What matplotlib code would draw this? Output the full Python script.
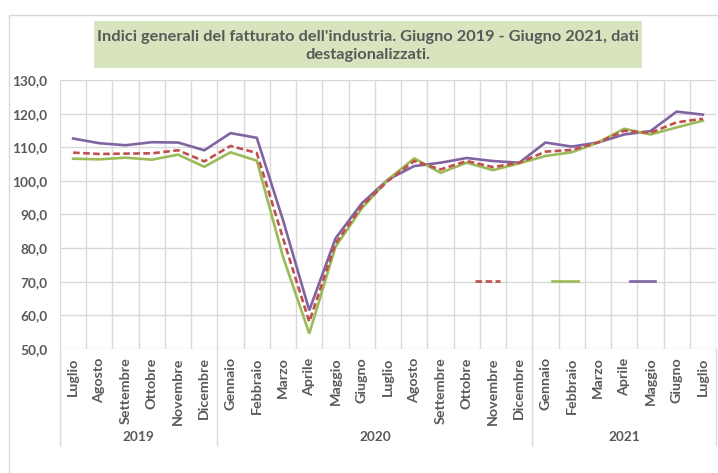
import matplotlib
matplotlib.use('Agg')
import matplotlib.pyplot as plt
import numpy as np
from matplotlib.patches import Rectangle
from matplotlib.lines import Line2D
from matplotlib.transforms import blended_transform_factory

months = ["Luglio", "Agosto", "Settembre", "Ottobre", "Novembre", "Dicembre",
          "Gennaio", "Febbraio", "Marzo", "Aprile", "Maggio", "Giugno",
          "Luglio", "Agosto", "Settembre", "Ottobre", "Novembre", "Dicembre",
          "Gennaio", "Febbraio", "Marzo", "Aprile", "Maggio", "Giugno", "Luglio"]
years = ["2019", "2020", "2021"]
year_counts = [6, 12, 7]

red = [108.4, 108.0, 108.1, 108.2, 109.1, 105.8, 110.4, 108.3, 82.9, 58.1, 81.4, 92.5,
       100.0, 105.9, 103.4, 105.9, 104.1, 105.4, 108.7, 109.2, 111.4, 114.9, 114.3, 117.4, 118.5]
green = [106.6, 106.4, 106.9, 106.3, 107.8, 104.2, 108.5, 106.0, 77.4, 54.6, 80.4, 91.8,
         100.4, 106.7, 102.4, 105.4, 103.2, 105.2, 107.4, 108.5, 111.4, 115.5, 113.8, 115.9, 117.9]
purple = [112.6, 111.2, 110.6, 111.5, 111.4, 109.1, 114.2, 112.8, 88.3, 61.5, 82.9, 93.3,
          100.4, 104.4, 105.4, 106.8, 105.9, 105.4, 111.4, 110.2, 111.4, 113.8, 114.8, 120.6, 119.7]

title = "Indici generali del fatturato dell'industria. Giugno 2019 - Giugno 2021, dati\ndestagionalizzati."

TXT = '#595959'
GRID = '#D9D9D9'
C_RED = '#C0504D'
C_GREEN = '#9BBB59'
C_PURPLE = '#8064A2'
DASH = (2.5, 1.3)

plt.rcParams['font.family'] = ['Lato', 'DejaVu Sans']

W, H = 718, 473
fig = plt.figure(figsize=(W / 100, H / 100), dpi=100)

# outer chart border
fig.patches.append(Rectangle((9 / W, -0.1), 1.2, 1.1 - 15 / H, transform=fig.transFigure,
                             fill=False, edgecolor=GRID, linewidth=1.0))

ax = fig.add_axes([60 / W, 1 - 349 / H, (716 - 60) / W, (349 - 80) / H])
x = np.arange(len(months))

ax.plot(x, purple, color=C_PURPLE, lw=1.9, solid_joinstyle='miter')
ax.plot(x, green, color=C_GREEN, lw=1.9, solid_joinstyle='miter')
ax.plot(x, red, color=C_RED, lw=1.9, dashes=DASH)

ax.set_xlim(-0.5, len(months) - 0.5)
ax.set_ylim(50, 130)
ax.set_yticks(np.arange(50, 131, 10))
ax.set_yticklabels([f"{v:.1f}".replace('.', ',') for v in np.arange(50, 131, 10)])
ax.set_xticks(x)
ax.set_xticklabels(months, rotation=90, va='top', ha='center')
ax.set_xticks(np.arange(-0.5, len(months), 1), minor=True)
ax.tick_params(axis='both', which='both', length=0, colors=TXT)
ax.tick_params(axis='x', pad=6, labelsize=10.3)
ax.tick_params(axis='y', pad=9, labelsize=9.8)
for lab in ax.get_xticklabels() + ax.get_yticklabels():
    lab.set_fontweight('bold')
ax.grid(True, which='major', axis='y', color=GRID, lw=1.0)
ax.grid(True, which='minor', axis='x', color=GRID, lw=1.0)
ax.set_axisbelow(True)
for s in ax.spines.values():
    s.set_visible(False)

# year group labels and separators
tr = blended_transform_factory(ax.transData, ax.transAxes)
start = -0.5
bounds = [start]
for name, n in zip(years, year_counts):
    mid = start + n / 2
    ax.text(mid, -0.327, name, transform=tr, ha='center', va='center',
            fontsize=9.8, fontweight='bold', color=TXT)
    start += n
    bounds.append(start)
for b in bounds:
    ax.add_line(Line2D([b, b], [0, -0.357], transform=tr, color=GRID, lw=1.0, clip_on=False))

# legend with line samples only
handles = [Line2D([], [], color=C_RED, lw=1.9, dashes=DASH),
           Line2D([], [], color=C_GREEN, lw=1.9),
           Line2D([], [], color=C_PURPLE, lw=1.9)]
ax.legend(handles, ['', '', ''], ncol=3, frameon=False, loc='center',
          bbox_to_anchor=((565 - 60) / (716 - 60), 20 / 80),
          handlelength=1.85, handletextpad=0.0, columnspacing=3.74, fontsize=10,
          borderaxespad=0, borderpad=0)

# title box
fig.patches.append(Rectangle((94 / W, 1 - 68 / H), (642 - 94) / W, (68 - 21) / H,
                             transform=fig.transFigure, facecolor='#D7E4BD', edgecolor='none'))
fig.text(368 / W, 1 - 46 / H, title, ha='center', va='center', fontsize=11.8,
         fontweight='bold', color=TXT, linespacing=1.45)

fig.savefig('out.png', dpi=100)
